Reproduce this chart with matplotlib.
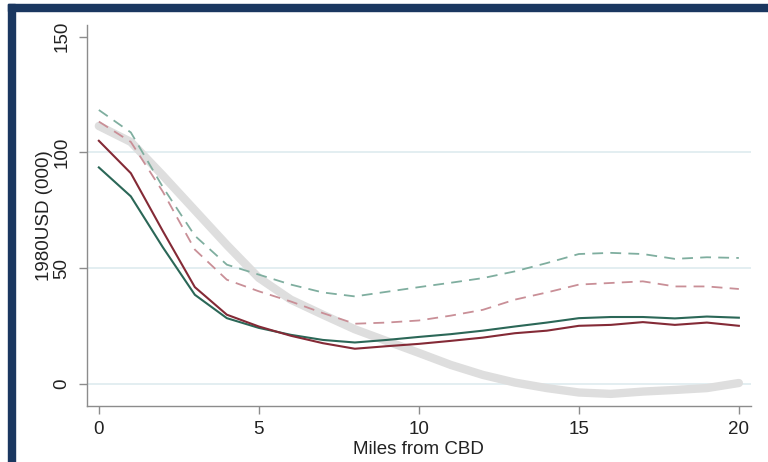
import numpy as np
import matplotlib.pyplot as plt
from matplotlib.patches import Rectangle

plt.rcParams['font.family'] = ['Liberation Sans', 'DejaVu Sans']

# miles from the CBD
miles = [0, 1, 2, 3, 4, 5, 6, 7, 8, 9, 10, 11, 12, 13, 14, 15, 16, 17, 18, 19, 20]

# solid lines
green_solid = [93.5, 81, 59, 38.5, 28.4, 24.2, 21.2, 19, 17.9, 19, 20.3, 21.5, 23, 24.8, 26.5, 28.4, 28.9, 28.9, 28.3, 29.1, 28.6]
red_solid = [105, 91, 66, 41.8, 29.9, 24.8, 20.8, 17.6, 15.2, 16.3, 17.3, 18.6, 20, 21.9, 23, 25.1, 25.5, 26.7, 25.5, 26.5, 25.1]

# dashed lines
green_dash = [118.3, 108.6, 85, 64, 51.5, 47.2, 42.9, 39.5, 37.8, 39.8, 41.8, 43.7, 45.7, 48.6, 52.2, 56.1, 56.6, 56.1, 54, 54.7, 54.4]
red_dash = [113.3, 104.5, 83, 58, 45, 40, 35.6, 30.6, 26, 26.5, 27.4, 29.5, 32, 36.4, 39.5, 42.9, 43.6, 44.3, 42.1, 42.1, 41]

# fitted curve (thick gray)
fit = [111.4, 104.5, 90, 75, 60, 45.8, 36.4, 29.9, 23.6, 18.5, 13.4, 8.2, 3.9, 0.6, -1.8, -3.7, -4.3, -3.3, -2.6, -1.8, 0.4]

fig = plt.figure(figsize=(7.68, 4.62), dpi=100)
ax = fig.add_axes([87/768, 1 - 405.7/462, (750.7 - 87)/768, (405.7 - 25)/462])

for g in [0, 50, 100]:
    ax.axhline(g, color='#e3eef1', lw=1.4, zorder=0)

ax.plot(miles, fit, color='#dedede', lw=6, solid_capstyle='round', zorder=1)
ax.plot(miles, green_dash, color='#7fae9f', lw=1.3, dashes=(6, 4), zorder=2)
ax.plot(miles, red_dash, color='#c98f97', lw=1.3, dashes=(6, 4), zorder=2)
ax.plot(miles, green_solid, color='#2b6757', lw=1.5, zorder=3)
ax.plot(miles, red_solid, color='#842a36', lw=1.5, zorder=3)

ax.set_xlim(-0.37, 20.37)
ax.set_ylim(-9.4, 155)
ax.set_xticks([0, 5, 10, 15, 20])
ax.set_yticks([0, 50, 100, 150])
ax.set_yticklabels(['0', '50', '100', '150'], rotation=90, va='center')

for s in ['top', 'right']:
    ax.spines[s].set_visible(False)
for s in ['left', 'bottom']:
    ax.spines[s].set_color('#8c8c8c')
    ax.spines[s].set_linewidth(1.0)
ax.tick_params(colors='#8c8c8c', labelcolor='#222222', length=6, width=1, labelsize=13.5)
ax.tick_params(axis='x', pad=5)
ax.tick_params(axis='y', pad=6)

ax.set_xlabel('Miles from CBD', fontsize=13.5, color='#222222', labelpad=2)
ax.set_ylabel('1980USD (000)', fontsize=13.5, color='#222222', labelpad=0)

# navy frame bits (left and top)
fig.patches.append(Rectangle((8/768, 0), 7/768, 1 - 4/462, transform=fig.transFigure, color='#1a3760', zorder=10))
fig.patches.append(Rectangle((8/768, 1 - 11/462), 1, 7/462, transform=fig.transFigure, color='#1a3760', zorder=10))

fig.savefig('out.png', dpi=100)
